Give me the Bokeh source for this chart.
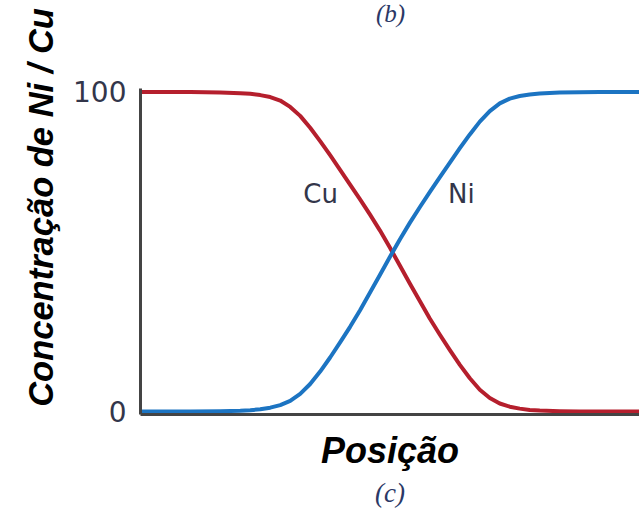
from bokeh.plotting import figure
from bokeh.models import Range1d, Label, FixedTicker, Title
from bokeh.embed import file_html
from bokeh.resources import INLINE

# Position (0-100 across the bottom axis)
position = [0, 10, 16, 20, 22, 24, 26, 28, 30, 32, 34, 36, 38, 40, 42, 44, 46, 48, 50, 52, 54,
            56, 58, 60, 62, 64, 66, 68, 70, 72, 74, 76, 78, 80, 84, 88, 92, 100]
cu = [100, 100, 99.85, 99.6, 99.4, 99.0, 98.4, 97.3, 95.3, 92.5, 88.8, 84.6, 80.2, 75.6, 71.0, 66.4,
      61.6, 56.6, 51.2, 45.6, 40.0, 34.5, 29.0, 24.0, 19.2, 14.6, 10.4, 6.8, 4.2, 2.5, 1.5, 0.9,
      0.5, 0.3, 0.1, 0.03, 0, 0]
ni = [0, 0, 0.1, 0.25, 0.4, 0.7, 1.2, 2.0, 3.3, 5.5, 8.6, 12.5, 16.9, 21.6, 26.5, 31.7, 37.2, 42.8,
      48.4, 53.9, 59.1, 64.0, 68.7, 73.3, 77.9, 82.4, 86.7, 90.7, 94.0, 96.4, 97.9, 98.7, 99.2,
      99.5, 99.8, 99.9, 100, 100]
y_ticks = [0, 100]
y_tick_labels = {0: "0", 100: "100"}

RED = "#b51f2d"
BLUE = "#1c74c2"
TXT = "#33364a"

p = figure(width=639, height=514, output_backend="svg", toolbar_location=None,
           x_range=Range1d(0, 100), y_range=Range1d(-0.94, 128.6),
           min_border_left=140, min_border_right=0, min_border_top=0, min_border_bottom=100)
p.outline_line_color = None
p.xgrid.visible = False
p.ygrid.visible = False
p.background_fill_color = "white"
p.border_fill_color = "white"

p.line(position, cu, line_color=RED, line_width=4, line_join="round")
p.line(position, ni, line_color=BLUE, line_width=4, line_join="round")

# left axis
ya = p.yaxis[0]
ya.ticker = FixedTicker(ticks=y_ticks)
ya.major_label_overrides = y_tick_labels
ya.bounds = (-0.94, 101)
ya.major_tick_out = 0
ya.major_tick_in = 0
ya.minor_tick_out = 0
ya.minor_tick_in = 0
ya.major_label_standoff = 14
ya.major_label_text_font = "DejaVu Sans"
ya.major_label_text_font_size = "28px"
ya.major_label_text_color = TXT
ya.axis_line_color = "#444444"
ya.axis_line_width = 3
ya.axis_label = "Concentração de Ni / Cu"
ya.axis_label_text_font = "Liberation Sans"
ya.axis_label_text_font_style = "bold italic"
ya.axis_label_text_font_size = "34.5px"
ya.axis_label_text_color = "black"
ya.axis_label_standoff = 10

# bottom axis
xa = p.xaxis[0]
xa.ticker = FixedTicker(ticks=[])
xa.major_tick_out = 0
xa.major_tick_in = 0
xa.minor_tick_out = 0
xa.minor_tick_in = 0
xa.major_label_standoff = 0
xa.axis_line_color = "#444444"
xa.axis_line_width = 3
xa.axis_label = "Posição"
xa.axis_label_text_font = "Liberation Sans"
xa.axis_label_text_font_style = "bold italic"
xa.axis_label_text_font_size = "36px"
xa.axis_label_text_color = "black"
xa.axis_label_standoff = 15

p.add_layout(Title(text="(c)", align="center", text_font="Liberation Serif",
                   text_font_style="italic", text_font_size="27px", text_color="#2b3866",
                   standoff=4), "below")

p.add_layout(Label(x=36.1, y=68.1, text="Cu", text_align="center", text_baseline="middle",
                   text_font="DejaVu Sans", text_font_size="26px", text_color=TXT))
p.add_layout(Label(x=64.3, y=68.1, text="Ni", text_align="center", text_baseline="middle",
                   text_font="DejaVu Sans", text_font_size="26px", text_color=TXT))
p.add_layout(Label(x=50.1, y=124.6, text="(b)", text_align="center", text_baseline="middle",
                   text_font="Liberation Serif", text_font_style="italic", text_font_size="25px",
                   text_color="#2b3866"))

open("out.html", "w").write(file_html(p, INLINE))
